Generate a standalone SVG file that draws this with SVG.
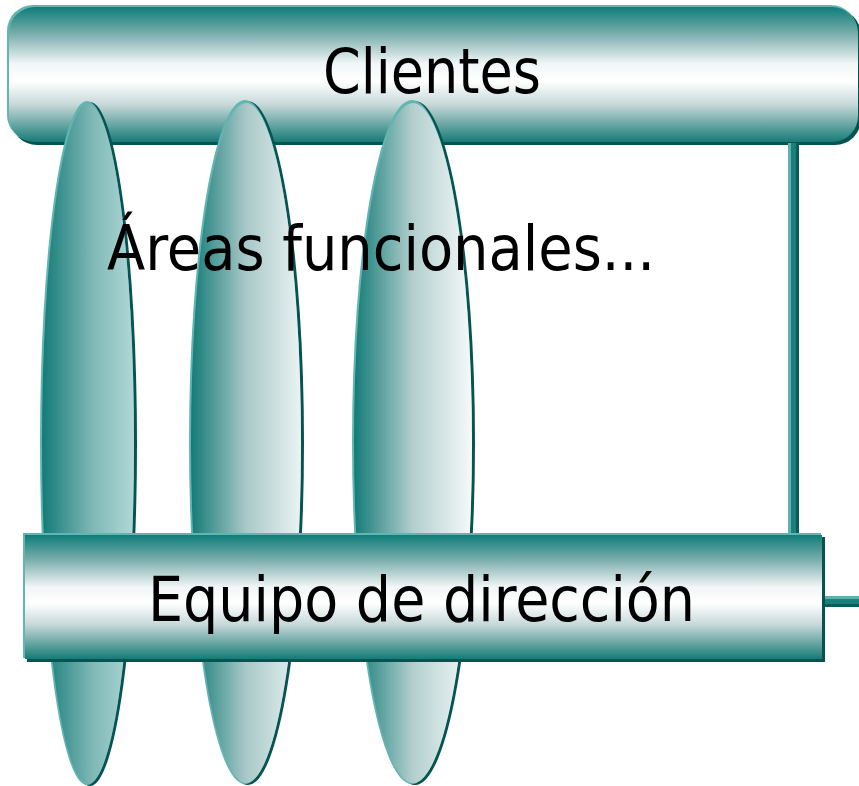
<svg xmlns="http://www.w3.org/2000/svg" width="859" height="786" viewBox="0 0 859 786">
<defs>
<linearGradient id="gBar" x1="0" y1="0" x2="0" y2="1">
<stop offset="0" stop-color="#0f7d79"/>
<stop offset="0.2" stop-color="#7aaead"/>
<stop offset="0.42" stop-color="#f2f6f6"/>
<stop offset="0.55" stop-color="#ffffff"/>
<stop offset="0.72" stop-color="#c8d9d9"/>
<stop offset="1" stop-color="#167b77"/>
</linearGradient>
<linearGradient id="gE1" x1="0" y1="0" x2="1" y2="0">
<stop offset="0" stop-color="#137b77"/>
<stop offset="0.55" stop-color="#7fb8b6"/>
<stop offset="1" stop-color="#b0d8d6"/>
</linearGradient>
<linearGradient id="gE2" x1="0" y1="0" x2="1" y2="0">
<stop offset="0" stop-color="#137b77"/>
<stop offset="0.5" stop-color="#a8c8c7"/>
<stop offset="1" stop-color="#eaf3f3"/>
</linearGradient>
<linearGradient id="gE3" x1="0" y1="0" x2="1" y2="0">
<stop offset="0" stop-color="#137b77"/>
<stop offset="0.5" stop-color="#b2cfce"/>
<stop offset="1" stop-color="#f6f9f9"/>
</linearGradient>
<style>
.hl{fill:#62b5b1}
.sh{fill:#065452}
.txt{font-family:"DejaVu Sans Condensed","DejaVu Sans",sans-serif;font-size:62px;fill:#000}
</style>
</defs>
<g id="clientes">
<rect class="sh" x="11" y="9" width="850" height="136" rx="26"/>
<rect class="hl" x="7" y="5" width="850" height="136" rx="26"/>
<rect x="9" y="7" width="849" height="135" rx="26" fill="url(#gBar)"/>
</g>
<g id="areas">
<g id="area1">
<ellipse class="sh" cx="90" cy="444" rx="47" ry="342"/>
<ellipse class="hl" cx="87" cy="443" rx="47" ry="342"/>
<ellipse cx="88" cy="444" rx="46" ry="340" fill="url(#gE1)"/>
</g>
<g id="area2">
<ellipse class="sh" cx="248" cy="443" rx="56" ry="342"/>
<ellipse class="hl" cx="245" cy="442" rx="56" ry="342"/>
<ellipse cx="246" cy="443" rx="55" ry="340" fill="url(#gE2)"/>
</g>
<g id="area3">
<ellipse class="sh" cx="415" cy="443" rx="60" ry="342"/>
<ellipse class="hl" cx="412" cy="442" rx="60" ry="342"/>
<ellipse cx="413" cy="443" rx="59" ry="340" fill="url(#gE3)"/>
</g>
</g>
<g id="connectors">
<rect x="788" y="143" width="11" height="393" fill="#0a5c5a"/>
<rect x="788" y="143" width="8" height="393" fill="#1a807c"/>
<rect x="788" y="143" width="3" height="393" fill="#5fb0ad"/>
<rect x="822" y="596" width="37" height="11" fill="#0a5c5a"/>
<rect x="822" y="596" width="37" height="8" fill="#1a807c"/>
<rect x="822" y="596" width="37" height="3" fill="#5fb0ad"/>
</g>
<g id="equipo">
<rect class="sh" x="27" y="537" width="798" height="125"/>
<rect class="hl" x="23" y="533" width="798" height="125"/>
<rect x="25" y="535" width="797" height="124" fill="url(#gBar)"/>
</g>
<text class="txt" x="432" y="93" text-anchor="middle" textLength="218" lengthAdjust="spacingAndGlyphs">Clientes</text>
<text class="txt" x="107" y="270" textLength="548" lengthAdjust="spacingAndGlyphs">Áreas funcionales...</text>
<text class="txt" x="148" y="621" textLength="547" lengthAdjust="spacingAndGlyphs">Equipo de dirección</text>
</svg>
